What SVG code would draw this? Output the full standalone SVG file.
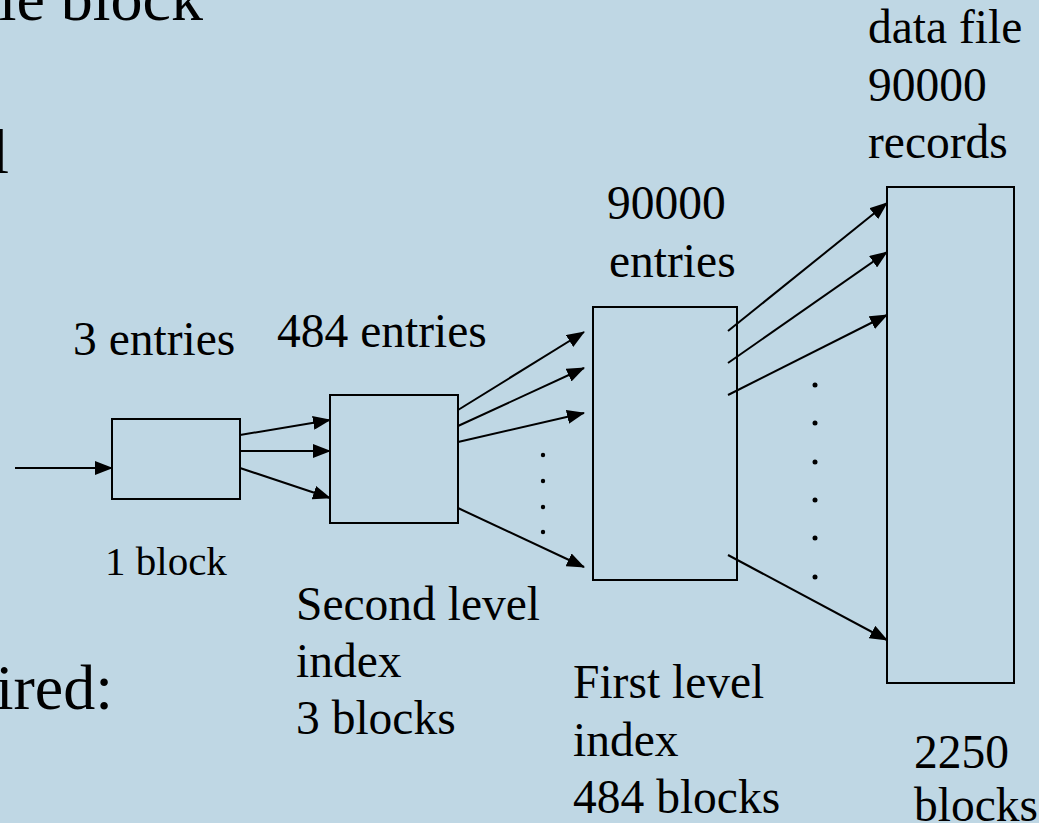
<svg xmlns="http://www.w3.org/2000/svg" width="1039" height="823" viewBox="0 0 1039 823">
<defs>
<marker id="ah" markerUnits="userSpaceOnUse" markerWidth="18" markerHeight="14" viewBox="0 0 18 14" refX="17" refY="7" orient="auto">
<path d="M0,0 L18,7 L0,14 Z" fill="#000"/>
</marker>
<style>
text{fill:#000}
.t{font-size:47.5px}
.s{font-size:41px}
.b{font-size:64px}
.box{fill:none;stroke:#000;stroke-width:2}
.c line{stroke:#000;stroke-width:2}
.c line.a{marker-end:url(#ah)}
.d circle{fill:#000}
</style>
</defs>
<rect x="0" y="0" width="1039" height="823" fill="#BFD7E4"/>
<g font-family="Liberation Serif, DejaVu Serif, serif">
<g id="slide-text">
<text class="b" x="203" y="20" text-anchor="end">le block</text>
<text class="b" x="9" y="173" text-anchor="end">l</text>
<text class="b" x="113" y="709" text-anchor="end">ired:</text>
</g>
<g id="n-top">
<rect class="box" x="112" y="419" width="128" height="80"/>
<text class="t" x="73" y="355">3 entries</text>
<text class="s" x="105" y="575">1 block</text>
</g>
<g id="n-second">
<rect class="box" x="330" y="395" width="128" height="128"/>
<text class="t" x="277" y="347">484 entries</text>
<text class="t" x="296" y="620">Second level</text>
<text class="t" x="296" y="677">index</text>
<text class="t" x="296" y="734">3 blocks</text>
</g>
<g id="n-first">
<rect class="box" x="593" y="307" width="144" height="273"/>
<text class="t" x="607" y="219">90000</text>
<text class="t" x="609" y="277">entries</text>
<text class="t" x="573" y="698">First level</text>
<text class="t" x="573" y="756">index</text>
<text class="t" x="573" y="813">484 blocks</text>
</g>
<g id="n-data">
<rect class="box" x="887" y="187" width="127" height="496"/>
<text class="t" x="868" y="43">data file</text>
<text class="t" x="868" y="101">90000</text>
<text class="t" x="868" y="158">records</text>
<text class="t" x="914" y="768">2250</text>
<text class="t" x="914" y="821">blocks</text>
</g>
</g>
<g id="connectors" class="c">
<line class="a" x1="15" y1="468" x2="112" y2="468"/>
<line class="a" x1="240" y1="435" x2="330" y2="420"/>
<line class="a" x1="240" y1="451" x2="330" y2="451"/>
<line class="a" x1="240" y1="468" x2="330" y2="498"/>
<line class="a" x1="458" y1="410" x2="584" y2="332"/>
<line class="a" x1="458" y1="426" x2="584" y2="368"/>
<line class="a" x1="458" y1="442" x2="584" y2="413"/>
<line class="a" x1="458" y1="508" x2="584" y2="567"/>
<line class="a" x1="728" y1="331" x2="887" y2="203"/>
<line class="a" x1="728" y1="363" x2="887" y2="252"/>
<line class="a" x1="728" y1="395" x2="887" y2="315"/>
<line class="a" x1="728" y1="555" x2="887" y2="640"/>
</g>
<g id="dots" class="d">
<circle cx="543" cy="455" r="2.2"/>
<circle cx="543" cy="481" r="2.2"/>
<circle cx="543" cy="507" r="2.2"/>
<circle cx="543" cy="532" r="2.2"/>
<circle cx="815" cy="385" r="2.5"/>
<circle cx="815" cy="423" r="2.5"/>
<circle cx="815" cy="462" r="2.5"/>
<circle cx="815" cy="500" r="2.5"/>
<circle cx="815" cy="538" r="2.5"/>
<circle cx="815" cy="577" r="2.5"/>
</g>
</svg>
